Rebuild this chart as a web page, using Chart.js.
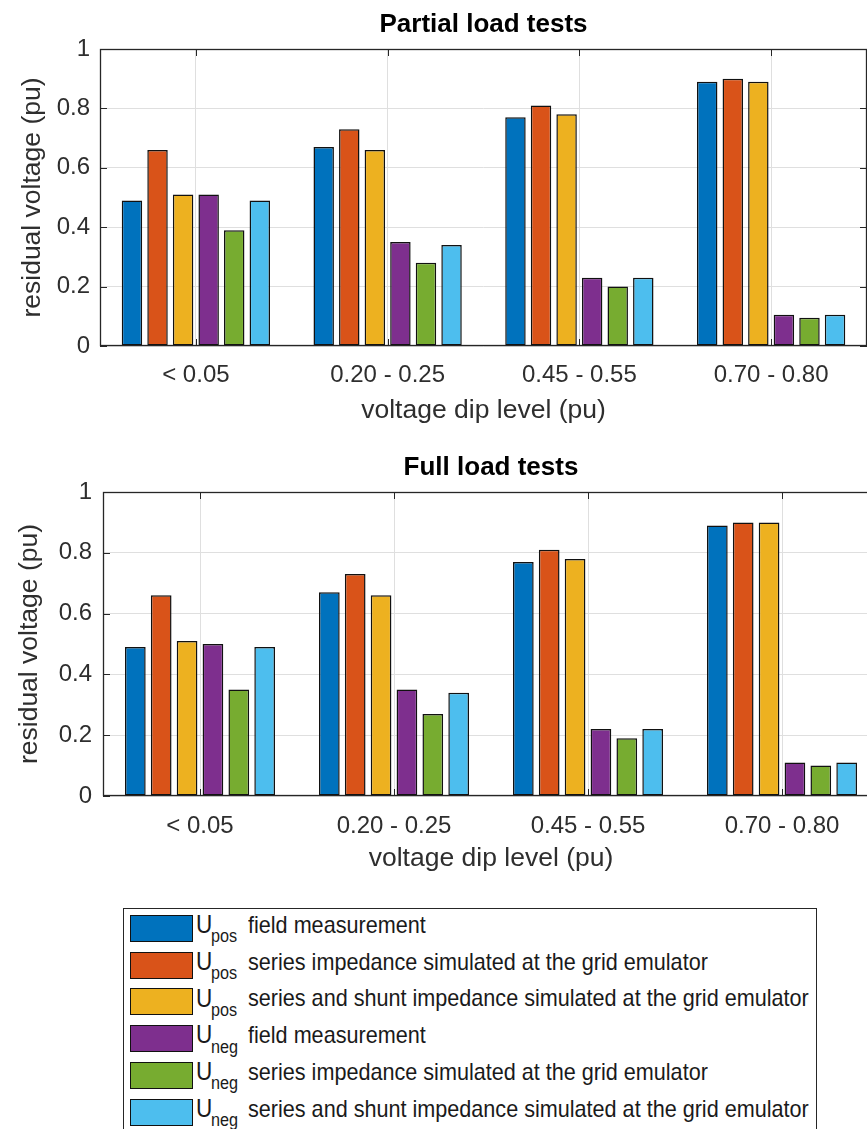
<!DOCTYPE html>
<html>
<head>
<meta charset="utf-8">
<script src="https://cdn.jsdelivr.net/npm/chart.js@4.4.1/dist/chart.umd.min.js"></script>
<style>
  html, body { margin: 0; padding: 0; background: #fff; overflow: hidden; }
  #wrap { position: relative; width: 867px; height: 1129px; overflow: hidden; background: #fff; }
  canvas { position: absolute; left: 0; }
  #c1 { top: 0; }
  #c2 { top: 430px; }
  #legend {
    position: absolute; left: 123px; top: 908px; width: 694px; height: 260px;
    border: 1px solid #262626; box-sizing: border-box; background: #fff;
    font-family: "Liberation Sans", Arial, Helvetica, sans-serif; color: #1a1a1a;
  }
  .sw { position: absolute; box-sizing: border-box; border: 1.5px solid #111; width: 63px; height: 27px; left: 6px; }
  .u, .sub, .txt { position: absolute; white-space: nowrap; line-height: 1; transform-origin: 0 0; transform: scaleX(0.9); }
  .u, .txt { font-size: 24px; }
  .u { font-size: 25px; }
  .sub { font-size: 18px; }
</style>
</head>
<body>
<div id="wrap">
  <canvas id="c1" width="868" height="430"></canvas>
  <canvas id="c2" width="881" height="450"></canvas>
  <div id="legend"></div>
</div>
<script>
// Voltage dip categories and tick labels
const categories = ['< 0.05', '0.20 - 0.25', '0.45 - 0.55', '0.70 - 0.80'];
const yTickLabels = ['0', '0.2', '0.4', '0.6', '0.8', '1'];

// Partial load tests: residual voltage (pu)
const partialUposField  = [0.49, 0.67, 0.77, 0.89];
const partialUposSeries = [0.66, 0.73, 0.81, 0.90];
const partialUposShunt  = [0.51, 0.66, 0.78, 0.89];
const partialUnegField  = [0.51, 0.35, 0.23, 0.105];
const partialUnegSeries = [0.39, 0.28, 0.20, 0.095];
const partialUnegShunt  = [0.49, 0.34, 0.23, 0.105];

// Full load tests: residual voltage (pu)
const fullUposField  = [0.49, 0.67, 0.77, 0.89];
const fullUposSeries = [0.66, 0.73, 0.81, 0.90];
const fullUposShunt  = [0.51, 0.66, 0.78, 0.90];
const fullUnegField  = [0.50, 0.35, 0.22, 0.11];
const fullUnegSeries = [0.35, 0.27, 0.19, 0.10];
const fullUnegShunt  = [0.49, 0.34, 0.22, 0.11];

// Legend entries
const seriesSymbol = ['U', 'U', 'U', 'U', 'U', 'U'];
const seriesSub = ['pos', 'pos', 'pos', 'neg', 'neg', 'neg'];
const seriesText = [
  'field measurement',
  'series impedance simulated at the grid emulator',
  'series and shunt impedance simulated at the grid emulator',
  'field measurement',
  'series impedance simulated at the grid emulator',
  'series and shunt impedance simulated at the grid emulator'
];
const seriesColors = ['#0072BD', '#D95319', '#EDB120', '#7E2F8E', '#77AC30', '#4DBEEE'];

const FONT = '"Liberation Sans", Arial, Helvetica, sans-serif';
const TEXT = '#2e2e2e';
const GRID = '#dfdfdf';

// Axes box with inward tick marks on all four sides
const axesBox = {
  id: 'axesBox',
  beforeDatasetsDraw(chart) {
    const { ctx, chartArea: a, scales: { x, y } } = chart;
    const L = 7;
    ctx.save();
    ctx.strokeStyle = '#262626';
    ctx.lineWidth = 1;
    ctx.beginPath();
    y.ticks.forEach(t => {
      const py = Math.round(y.getPixelForValue(t.value)) + 0.5;
      ctx.moveTo(a.left, py); ctx.lineTo(a.left + L, py);
      ctx.moveTo(a.right, py); ctx.lineTo(a.right - L, py);
    });
    x.ticks.forEach((t, i) => {
      const px = Math.round(x.getPixelForTick(i)) + 0.5;
      ctx.moveTo(px, a.top); ctx.lineTo(px, a.top + L);
      ctx.moveTo(px, a.bottom); ctx.lineTo(px, a.bottom - L);
    });
    ctx.stroke();
    ctx.restore();
  },
  afterDatasetsDraw(chart) {
    const { ctx, chartArea: a } = chart;
    ctx.save();
    ctx.strokeStyle = '#262626';
    ctx.lineWidth = 1.3;
    ctx.strokeRect(Math.round(a.left) + 0.5, Math.round(a.top) + 0.5,
                   Math.round(a.right - a.left) - 1, Math.round(a.bottom - a.top) - 1);
    ctx.restore();
  }
};

function buildDatasets(values) {
  return values.map((data, i) => ({
    label: seriesSymbol[i] + seriesSub[i] + ' ' + seriesText[i],
    data,
    backgroundColor: seriesColors[i],
    borderColor: '#111',
    borderWidth: 1.5,
    borderSkipped: false,
    categoryPercentage: 0.8,
    barPercentage: 0.8
  }));
}

function makeChart(id, titleText, values, g) {
  return new Chart(document.getElementById(id), {
    type: 'bar',
    data: { labels: categories, datasets: buildDatasets(values) },
    plugins: [axesBox],
    options: {
      responsive: false,
      animation: false,
      devicePixelRatio: 1,
      layout: { padding: { left: 0, right: g.padRight, top: 0, bottom: 0 } },
      plugins: {
        legend: { display: false },
        tooltip: { enabled: false },
        title: {
          display: true,
          text: titleText,
          fullSize: false,
          color: '#000',
          font: { family: FONT, size: 26, weight: 'bold', lineHeight: 1.2 },
          padding: { top: g.titleTop, bottom: g.titleBottom }
        }
      },
      scales: {
        x: {
          type: 'category',
          offset: true,
          grid: { offset: false, color: GRID, lineWidth: 1, drawTicks: false },
          border: { display: false },
          ticks: {
            color: TEXT, padding: g.xTickPad, autoSkip: false, maxRotation: 0,
            font: { family: FONT, size: 24, lineHeight: 1.2 }
          },
          title: {
            display: true, text: 'voltage dip level (pu)', color: TEXT,
            font: { family: FONT, size: 26.5, lineHeight: 1.2 },
            padding: { top: 0, bottom: g.xTitleBottom }
          },
          afterFit(scale) { scale.height = g.xHeight; }
        },
        y: {
          min: 0, max: 1,
          grid: { color: GRID, lineWidth: 1, drawTicks: false },
          border: { display: false },
          ticks: {
            stepSize: 0.2, color: TEXT, padding: g.yTickPad,
            font: { family: FONT, size: 24, lineHeight: 1.2 },
            callback: (v, i) => yTickLabels[i]
          },
          title: {
            display: true, text: 'residual voltage (pu)', color: TEXT,
            font: { family: FONT, size: 26.5, lineHeight: 1.2 },
            padding: { top: g.yTitleTop, bottom: 0 }
          },
          afterFit(scale) { scale.width = g.yWidth; }
        }
      }
    }
  });
}

makeChart('c1', 'Partial load tests',
  [partialUposField, partialUposSeries, partialUposShunt, partialUnegField, partialUnegSeries, partialUnegShunt],
  { padRight: 1, titleTop: 9, titleBottom: 8.8, xTickPad: 15, xTitleBottom: 3, xHeight: 84, yTickPad: 10, yTitleTop: 17, yWidth: 100 });

makeChart('c2', 'Full load tests',
  [fullUposField, fullUposSeries, fullUposShunt, fullUnegField, fullUnegSeries, fullUnegShunt],
  { padRight: 2, titleTop: 22.4, titleBottom: 8.4, xTickPad: 16, xTitleBottom: 5, xHeight: 84, yTickPad: 11, yTitleTop: 13.5, yWidth: 103 });

// Legend built from the series arrays
const legend = document.getElementById('legend');
const STEP = 36.7;
seriesText.forEach((txt, i) => {
  const off = i * STEP;
  const sw = document.createElement('div');
  sw.className = 'sw';
  sw.style.top = (6 + off) + 'px';
  sw.style.background = seriesColors[i];
  legend.appendChild(sw);

  const u = document.createElement('span');
  u.className = 'u';
  u.textContent = seriesSymbol[i];
  u.style.left = '72px';
  u.style.top = (3.2 + off) + 'px';
  legend.appendChild(u);

  const sub = document.createElement('span');
  sub.className = 'sub';
  sub.textContent = seriesSub[i];
  sub.style.left = '86.5px';
  sub.style.top = (18.4 + off) + 'px';
  legend.appendChild(sub);

  const t = document.createElement('span');
  t.className = 'txt';
  t.textContent = txt;
  t.style.left = '123.5px';
  t.style.top = (4 + off) + 'px';
  legend.appendChild(t);
});
</script>
</body>
</html>
